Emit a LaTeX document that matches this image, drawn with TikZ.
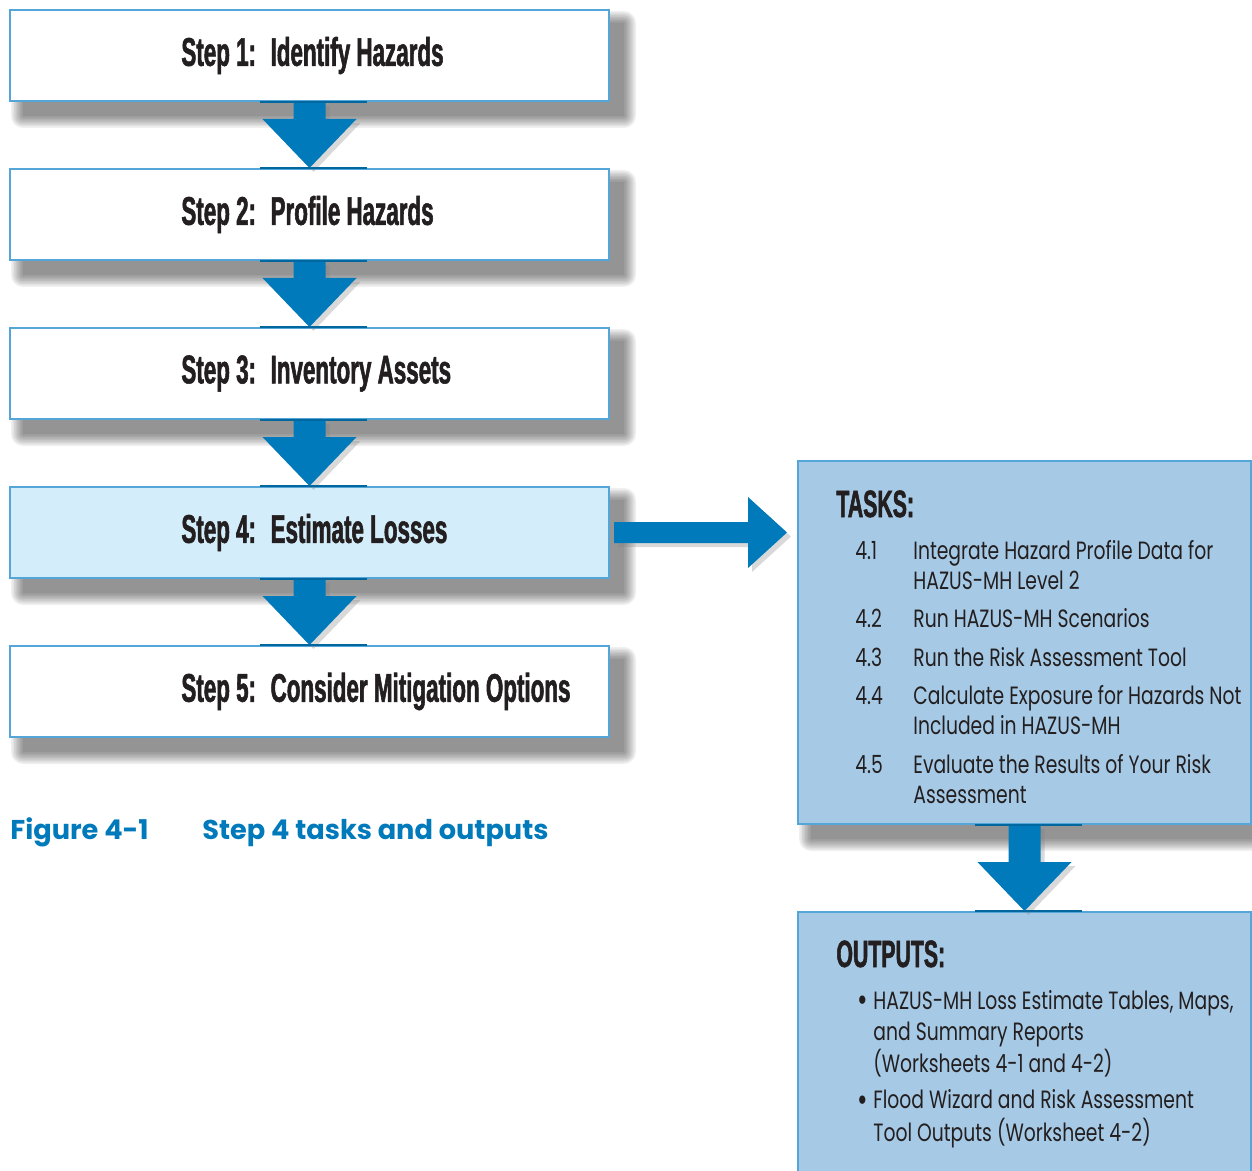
\documentclass[tikz,border=0pt]{standalone}
\usepackage{fontspec}
\usepackage{tikz}
\usetikzlibrary{calc, positioning, shadows, backgrounds}

\definecolor{flowblue}{RGB}{0,122,186}
\definecolor{boxline}{RGB}{84,165,216}
\definecolor{activefill}{RGB}{212,237,250}
\definecolor{panelfill}{RGB}{166,201,229}
\definecolor{inkgray}{RGB}{35,31,32}

\newfontfamily\stepfont[FakeStretch=0.56, BoldFeatures={FakeBold=1.4}]{Liberation Sans}
\newfontfamily\bodyfont[FakeStretch=0.75]{Poppins}
\newfontfamily\capfont{Poppins}
\newcommand{\listdot}{\raisebox{-1.2pt}{\fontsize{17}{15.5}\selectfont\textbullet}}

% soft shadow below and right of a box
\newcommand{\softshadow}[1]{%
  \foreach \r in {0,1.5,...,12}
    \fill[black, opacity=0.06, rounded corners=\r*0.5pt]
      ($(#1.north west)+(14-\r,14-\r)$) rectangle ($(#1.south east)+(14+\r,14+\r)$);
}

% block arrow from one box down to the next
\newcommand{\flowdown}[2]{%
  \fill[flow] ($(#1.south)+(-16,0)$) -- ($(#1.south)+(16,0)$) -- ($(#2.north)+(16,-49)$)
    -- ($(#2.north)+(47,-49)$) -- (#2.north) -- ($(#2.north)+(-47,-49)$)
    -- ($(#2.north)+(-16,-49)$) -- cycle;
  \draw[flowedge] ($(#1.south)+(-50,0)$) -- ($(#1.south)+(57,0)$);
  \draw[flowedge] ($(#2.north)+(-50,0)$) -- ($(#2.north)+(57,0)$);
}

\begin{document}
\begin{tikzpicture}[x=0.5pt, y=-0.5pt,
    node distance=33pt,
    stepbox/.style={draw=boxline, line width=1pt, fill=white, minimum width=299.5pt, minimum height=45.5pt, inner sep=0pt},
    steptext/.style={inner sep=0pt, font=\stepfont\bfseries\fontsize{20}{24}\selectfont, text=inkgray},
    panel/.style={draw=boxline, line width=1pt, fill=panelfill, minimum width=226.5pt, inner sep=0pt},
    headtext/.style={inner sep=0pt, font=\stepfont\bfseries\fontsize{19}{22}\selectfont, text=inkgray},
    listtext/.style={inner sep=0pt, font=\bodyfont\fontsize{12.5}{15}\selectfont, text=inkgray},
    captext/.style={inner sep=0pt, font=\capfont\bfseries\fontsize{13.6}{16}\selectfont, text=flowblue},
    flow/.style={fill=flowblue, drop shadow={shadow xshift=2pt, shadow yshift=-2pt, opacity=0.3}},
    flowedge/.style={draw=flowblue!85!black, line width=1pt}
]
\useasboundingbox (0,0) rectangle (1252,1171);

% the five steps
\node[stepbox] (s1) at (309.5,55.5) {};
\node[stepbox, below=of s1] (s2) {};
\node[stepbox, below=of s2] (s3) {};
\node[stepbox, below=of s3, fill=activefill] (s4) {};
\node[stepbox, below=of s4] (s5) {};

\node[steptext, right=86pt of s1.west] (t1) {Step 1:~ Identify Hazards};
\node[steptext, right=86pt of s2.west] (t2) {Step 2:~ Profile Hazards};
\node[steptext, right=86pt of s3.west] (t3) {Step 3:~ Inventory Assets};
\node[steptext, right=86pt of s4.west] (t4) {Step 4:~ Estimate Losses};
\node[steptext, right=86pt of s5.west] (t5) {Step 5:~ Consider Mitigation Options};

% tasks and outputs panels
\node[panel, minimum height=181.5pt] (tasks) at (1024.5,642.5) {};
\node[panel, minimum height=137pt, below=43pt of tasks] (outputs) {};

\node[headtext, anchor=base west] (taskhead) at ($(tasks.north west)+(39,57)$) {TASKS:};
\node[listtext, anchor=base west] (tasklist) at ($(tasks.north west)+(58,99)$) {%
  \begin{tabular}[t]{@{}p{29pt}@{}l@{}}
  4.1 & Integrate Hazard Profile Data for\\
      & HAZUS-MH Level 2\\[4.25pt]
  4.2 & Run HAZUS-MH Scenarios\\[4.25pt]
  4.3 & Run the Risk Assessment Tool\\[4.25pt]
  4.4 & Calculate Exposure for Hazards Not\\
      & Included in HAZUS-MH\\[4.25pt]
  4.5 & Evaluate the Results of Your Risk\\
      & Assessment
  \end{tabular}};

\node[headtext, anchor=base west] (outhead) at ($(outputs.north west)+(39,56)$) {OUTPUTS:};
\node[listtext, anchor=base west, font=\bodyfont\fontsize{12.5}{15.5}\selectfont] (outlist) at ($(outputs.north west)+(60,98)$) {%
  \begin{tabular}[t]{@{}p{8pt}@{}l@{}}
  \listdot & HAZUS-MH Loss Estimate Tables, Maps,\\
           & and Summary Reports\\
           & (Worksheets 4-1 and 4-2)\\[2.5pt]
  \listdot & Flood Wizard and Risk Assessment\\
           & Tool Outputs (Worksheet 4-2)
  \end{tabular}};

% caption
\node[captext, anchor=base west] (caption) at (10,839) {\makebox[96pt][l]{Figure 4-1}Step 4 tasks and outputs};

% connectors
\flowdown{s1}{s2}
\flowdown{s2}{s3}
\flowdown{s3}{s4}
\flowdown{s4}{s5}
\flowdown{tasks}{outputs}
\fill[flow] ($(s4.east)+(4,-10.5)$) -- ($(tasks.west |- s4.east)+(-49,-10.5)$)
  -- ($(tasks.west |- s4.east)+(-49,-35.5)$) -- ($(tasks.west |- s4.east)+(-10,0)$)
  -- ($(tasks.west |- s4.east)+(-49,35.5)$) -- ($(tasks.west |- s4.east)+(-49,10.5)$)
  -- ($(s4.east)+(4,10.5)$) -- cycle;

% shadows behind the boxes
\begin{scope}[on background layer]
  \foreach \n in {s1,s2,s3,s4,s5,tasks} {\softshadow{\n}}
\end{scope}
\end{tikzpicture}
\end{document}
